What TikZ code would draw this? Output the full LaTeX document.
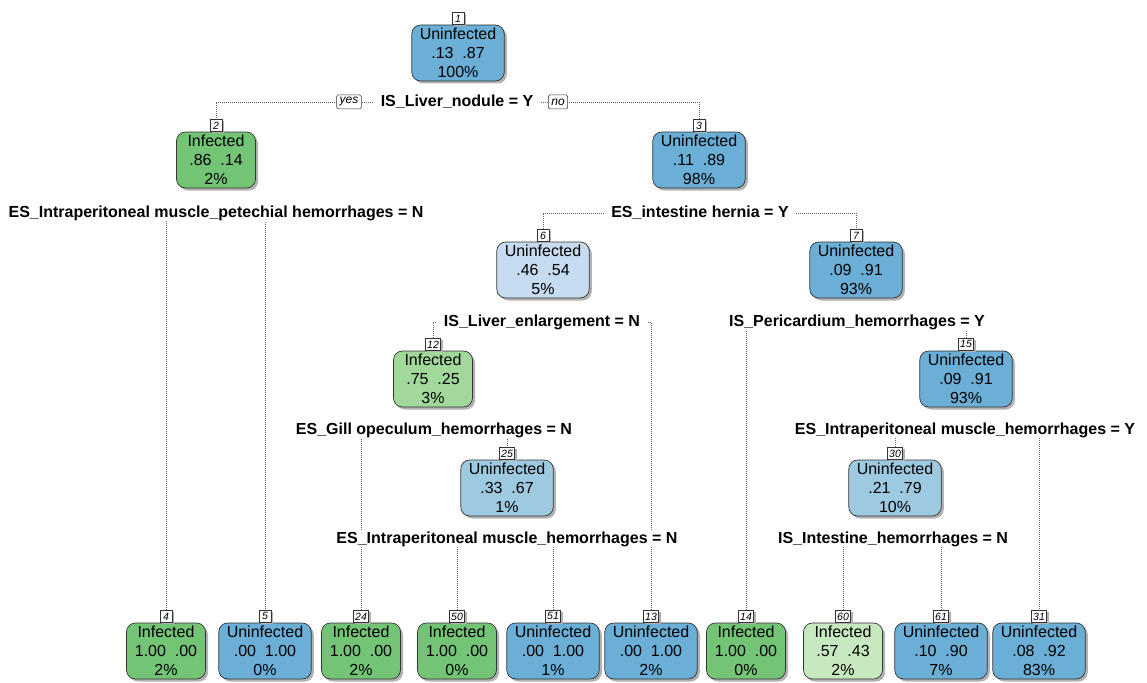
\documentclass[tikz,border=0pt]{standalone}
\usepackage{fontspec}
\setmainfont{Liberation Sans}
\usetikzlibrary{shadows}

\definecolor{blueA}{HTML}{6BAED6}
\definecolor{blueB}{HTML}{9ECAE1}
\definecolor{blueC}{HTML}{C6DBEF}
\definecolor{greenA}{HTML}{74C476}
\definecolor{greenB}{HTML}{A1D99B}
\definecolor{greenC}{HTML}{C7E9C0}

\pgfdeclarelayer{background}
\pgfsetlayers{background,main}

\tikzset{
  treebox/.style={draw=black!80, line width=0.7pt, rounded corners=9pt, align=center,
    minimum width=79pt, minimum height=56pt, inner xsep=8pt, inner ysep=0.5pt,
    font=\fontsize{16}{18.8}\selectfont,
    drop shadow={shadow xshift=2.5pt, shadow yshift=-2.5pt, fill=black!30, opacity=1}},
  blueA/.style={treebox, fill=blueA},
  blueB/.style={treebox, fill=blueB},
  blueC/.style={treebox, fill=blueC},
  greenA/.style={treebox, fill=greenA},
  greenB/.style={treebox, fill=greenB},
  greenC/.style={treebox, fill=greenC},
  numlab/.style={draw=black!80, fill=white, line width=0.5pt, inner xsep=1.8pt, inner ysep=0pt,
    minimum width=12pt, minimum height=12pt, anchor=south,
    font=\fontsize{10.5}{11}\selectfont\itshape,
    drop shadow={shadow xshift=2pt, shadow yshift=-1.5pt, fill=black!30, opacity=1}},
  splitlab/.style={fill=white, inner xsep=7pt, inner ysep=1pt,
    font=\fontsize{16}{18}\selectfont\bfseries},
  branch/.style={draw=black!60, line width=0.6pt, dash pattern=on 0.7pt off 1.3pt},
  yesno/.style={draw=black!80, fill=white, rounded corners=1.5pt, inner xsep=3pt, inner ysep=0pt,
    minimum height=14pt, line width=0.5pt, font=\fontsize{12}{13}\selectfont\itshape}
}

\begin{document}
\begin{tikzpicture}[x=1pt, y=-1pt]
\useasboundingbox (0,0) rectangle (1147,682);

% ---- inner nodes ----
\node[blueA]  (n1)  at (458,53)  {Uninfected\\.13\ \ .87\\100\%};
\node[greenA] (n2)  at (216,160) {Infected\\.86\ \ .14\\2\%};
\node[blueA]  (n3)  at (699,160) {Uninfected\\.11\ \ .89\\98\%};
\node[blueC]  (n6)  at (543,270) {Uninfected\\.46\ \ .54\\5\%};
\node[blueA]  (n7)  at (856,270) {Uninfected\\.09\ \ .91\\93\%};
\node[greenB] (n12) at (433,379) {Infected\\.75\ \ .25\\3\%};
\node[blueA]  (n15) at (966,379) {Uninfected\\.09\ \ .91\\93\%};
\node[blueB]  (n25) at (507,488) {Uninfected\\.33\ \ .67\\1\%};
\node[blueB]  (n30) at (895,488) {Uninfected\\.21\ \ .79\\10\%};

% ---- leaves ----
\node[greenA] (n4)  at (166,651)  {Infected\\1.00\ \ .00\\2\%};
\node[blueA]  (n5)  at (265,651)  {Uninfected\\.00\ \ 1.00\\0\%};
\node[greenA] (n24) at (361,651)  {Infected\\1.00\ \ .00\\2\%};
\node[greenA] (n50) at (457,651)  {Infected\\1.00\ \ .00\\0\%};
\node[blueA]  (n51) at (553,651)  {Uninfected\\.00\ \ 1.00\\1\%};
\node[blueA]  (n13) at (651,651)  {Uninfected\\.00\ \ 1.00\\2\%};
\node[greenA] (n14) at (746,651)  {Infected\\1.00\ \ .00\\0\%};
\node[greenC] (n60) at (843,651)  {Infected\\.57\ \ .43\\2\%};
\node[blueA]  (n61) at (941,651)  {Uninfected\\.10\ \ .90\\7\%};
\node[blueA]  (n31) at (1039,651) {Uninfected\\.08\ \ .92\\83\%};

% ---- node numbers ----
\foreach \k in {1,2,3,6,7,12,15,25,30,4,5,24,50,51,13,14,60,61,31}
  \node[numlab] (l\k) at (n\k.north) {\k};

% ---- split labels ----
\node[splitlab] (s1)  at (457,102) {IS\_Liver\_nodule = Y};
\node[splitlab] (s2)  at (216,213) {ES\_Intraperitoneal muscle\_petechial hemorrhages = N};
\node[splitlab] (s3)  at (700,213) {ES\_intestine hernia = Y};
\node[splitlab] (s6)  at (542,322) {IS\_Liver\_enlargement = N};
\node[splitlab] (s7)  at (857,322) {IS\_Pericardium\_hemorrhages = Y};
\node[splitlab] (s12) at (434,430) {ES\_Gill opeculum\_hemorrhages = N};
\node[splitlab] (s15) at (965,430) {ES\_Intraperitoneal muscle\_hemorrhages = Y};
\node[splitlab] (s25) at (507,539) {ES\_Intraperitoneal muscle\_hemorrhages = N};
\node[splitlab] (s30) at (893,539) {IS\_Intestine\_hemorrhages = N};

% ---- branches, behind the labels ----
\begin{pgfonlayer}{background}
  \foreach \p/\a/\b in {1/2/3, 2/4/5, 3/6/7, 6/12/13, 7/14/15,
                        12/24/25, 15/30/31, 25/50/51, 30/60/61} {
    \draw[branch] (s\p.center) -| (l\a.north);
    \draw[branch] (s\p.center) -| (l\b.north);
  }
\end{pgfonlayer}

% ---- yes / no tags on the root split ----
\node[yesno] (yes) at (349,102) {yes};
\node[yesno] (no)  at (558,102) {no};
\end{tikzpicture}
\end{document}
